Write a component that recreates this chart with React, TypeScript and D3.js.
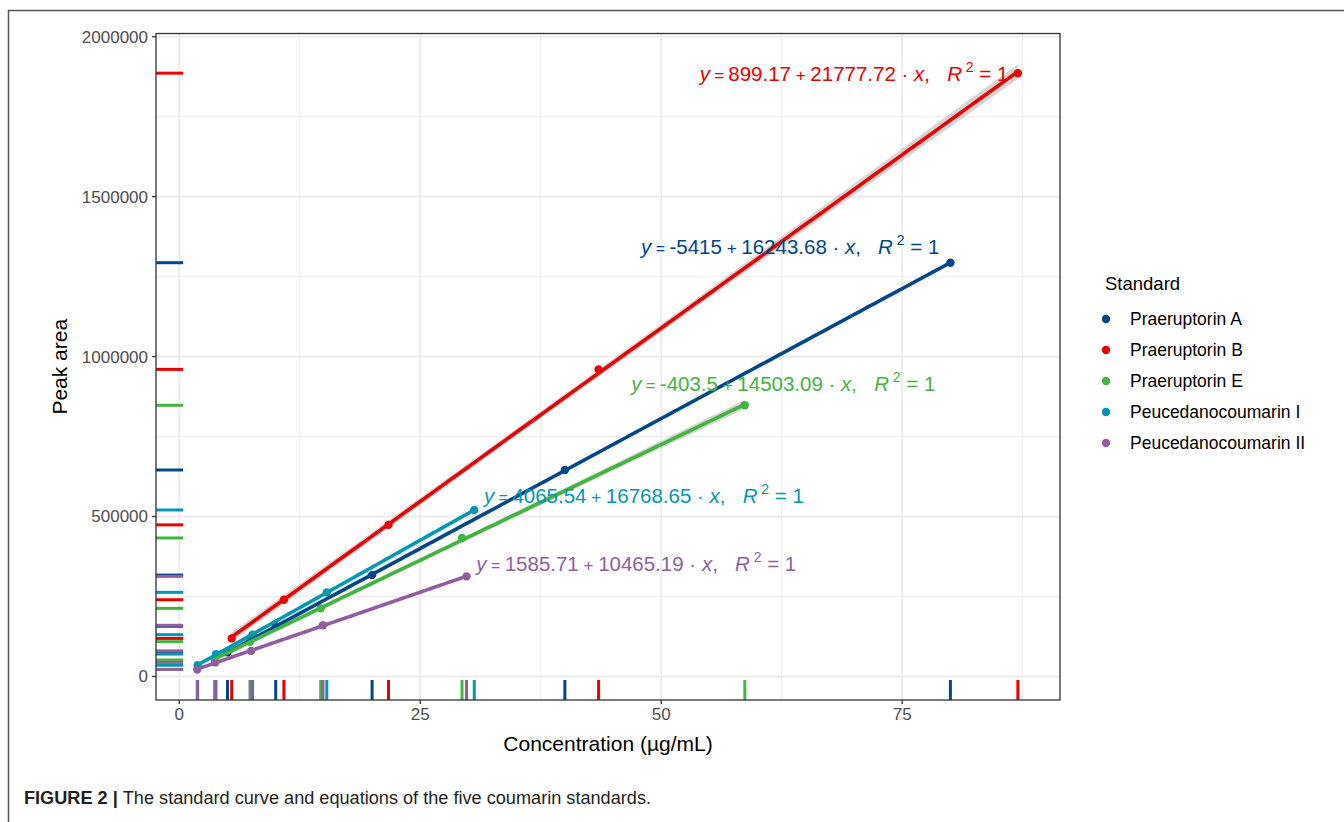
import React from 'react';
import * as d3 from 'd3';

// series names and colours (ggsci lancet)
const standards = ['Praeruptorin A', 'Praeruptorin B', 'Praeruptorin E', 'Peucedanocoumarin I', 'Peucedanocoumarin II'];
const colors = ['#00468B', '#ED0000', '#42B540', '#0099B4', '#925E9F'];

// concentration (µg/mL) and peak area
const concA = [5, 10, 20, 40, 80];
const areaA = [75800, 157000, 317000, 645500, 1293500];
const concB = [5.43, 10.85, 21.7, 43.5, 87.0];
const areaB = [119000, 240000, 474000, 960000, 1886000];
const concE = [3.67, 7.33, 14.67, 29.33, 58.67];
const areaE = [51600, 108800, 213000, 433000, 847700];
const concPI = [1.9, 3.8, 7.6, 15.3, 30.6];
const areaPI = [35000, 70000, 130700, 263000, 520500];
const concPII = [1.86, 3.72, 7.45, 14.9, 29.8];
const areaPII = [22000, 44000, 80000, 160000, 313000];

// equation labels
const eqIntercept = ['-5415', '899.17', '-403.5', '4065.54', '1585.71'];
const eqSlope = ['16243.68', '21777.72', '14503.09', '16768.65', '10465.19'];
const eqAt = [[47.9, 1342000], [54.0, 1883000], [46.9, 914000], [31.6, 564000], [30.8, 352000]];

const xTicks = [0, 25, 50, 75];
const yTicks = [0, 500000, 1000000, 1500000, 2000000];

const concs = [concA, concB, concE, concPI, concPII];
const areas = [areaA, areaB, areaE, areaPI, areaPII];

const W = 1344;
const H = 822;
const panel = { left: 156, right: 1060, top: 33.5, bottom: 700 };

// ordinary least squares + 95% confidence band, like geom_smooth(method = 'lm')
function fitLm(xs: number[], ys: number[]) {
  const n = xs.length;
  const mx = d3.mean(xs) as number;
  const my = d3.mean(ys) as number;
  const sxx = d3.sum(xs, (x) => (x - mx) ** 2);
  const sxy = d3.sum(xs, (x, i) => (x - mx) * (ys[i] - my));
  const b = sxy / sxx;
  const a = my - b * mx;
  const rss = d3.sum(xs, (x, i) => (ys[i] - a - b * x) ** 2);
  const s = Math.sqrt(rss / (n - 2));
  const t = 3.182; // qt(0.975, 3)
  const [x0, x1] = d3.extent(xs) as [number, number];
  const grid = d3.range(0, 81).map((i) => x0 + ((x1 - x0) * i) / 80);
  return grid.map((x) => {
    const fit = a + b * x;
    const se = s * Math.sqrt(1 / n + (x - mx) ** 2 / sxx);
    return { x, fit, lo: fit - t * se, hi: fit + t * se };
  });
}

const App: React.FC = () => {
  const x = d3.scaleLinear().domain([-2.42, 91.37]).range([panel.left, panel.right]);
  const y = d3.scaleLinear().domain([-73500, 2010000]).range([panel.bottom, panel.top]);

  const xMinor = [12.5, 37.5, 62.5, 87.5];
  const yMinor = [250000, 750000, 1250000, 1750000];

  const fits = concs.map((c, i) => fitLm(c, areas[i]));
  const line = d3.line<{ x: number; fit: number }>().x((d) => x(d.x)).y((d) => y(d.fit));
  const band = d3
    .area<{ x: number; lo: number; hi: number }>()
    .x((d) => x(d.x))
    .y0((d) => y(d.lo))
    .y1((d) => y(d.hi));

  const font = 'Liberation Sans, Arial, sans-serif';
  const rugX = 0.03 * (panel.bottom - panel.top);
  const rugY = 0.03 * (panel.right - panel.left);

  return (
    <svg width={W} height={H} style={{ position: 'absolute', left: 0, top: 0, fontFamily: font }}>
      <rect x={0} y={0} width={W} height={H} fill="#fff" />
      {/* figure frame */}
      <path d={`M8.5,${H + 2}V10.5H${W + 2}`} fill="none" stroke="#555" strokeWidth={1.5} />

      {/* grid */}
      <rect x={panel.left} y={panel.top} width={panel.right - panel.left} height={panel.bottom - panel.top} fill="#fff" />
      {yMinor.map((v) => (
        <line key={'ym' + v} x1={panel.left} x2={panel.right} y1={y(v)} y2={y(v)} stroke="#ebebeb" strokeWidth={0.9} />
      ))}
      {xMinor.map((v) => (
        <line key={'xm' + v} y1={panel.top} y2={panel.bottom} x1={x(v)} x2={x(v)} stroke="#ebebeb" strokeWidth={0.9} />
      ))}
      {yTicks.map((v) => (
        <line key={'yg' + v} x1={panel.left} x2={panel.right} y1={y(v)} y2={y(v)} stroke="#ebebeb" strokeWidth={1.8} />
      ))}
      {xTicks.map((v) => (
        <line key={'xg' + v} y1={panel.top} y2={panel.bottom} x1={x(v)} x2={x(v)} stroke="#ebebeb" strokeWidth={1.8} />
      ))}

      {/* confidence bands */}
      {fits.map((f, i) => (
        <path key={'band' + i} d={band(f) || ''} fill="#999" fillOpacity={0.4} />
      ))}

      {/* points */}
      {concs.map((c, i) =>
        c.map((v, j) => <circle key={`p${i}-${j}`} cx={x(v)} cy={y(areas[i][j])} r={4.2} fill={colors[i]} />)
      )}

      {/* fitted lines */}
      {fits.map((f, i) => (
        <path key={'line' + i} d={line(f) || ''} fill="none" stroke={colors[i]} strokeWidth={3.6} />
      ))}

      {/* rugs */}
      {concs.map((c, i) =>
        c.map((v, j) => (
          <g key={`r${i}-${j}`}>
            <line x1={x(v)} x2={x(v)} y1={panel.bottom} y2={panel.bottom - rugX} stroke={colors[i]} strokeWidth={3} />
            <line
              x1={panel.left}
              x2={panel.left + rugY}
              y1={y(areas[i][j])}
              y2={y(areas[i][j])}
              stroke={colors[i]}
              strokeWidth={3}
            />
          </g>
        ))
      )}

      {/* equations */}
      {eqAt.map((p, i) => (
        <text
          key={'eq' + i}
          x={x(p[0])}
          y={y(p[1])}
          dy="0.35em"
          fontSize={20.5}
          fill={colors[i]}
          style={{ whiteSpace: 'pre' }}
        >
          <tspan fontStyle="italic">y</tspan>
          <tspan fontSize={16}>{' = '}</tspan>
          <tspan>{eqIntercept[i]}</tspan>
          <tspan fontSize={17}>{' + '}</tspan>
          <tspan>{eqSlope[i] + ' · '}</tspan>
          <tspan fontStyle="italic">x</tspan>
          <tspan>{',   '}</tspan>
          <tspan fontStyle="italic">R</tspan>
          <tspan fontSize={14} dy={-9}>{' 2'}</tspan>
          <tspan dy={9}>{' = 1'}</tspan>
        </text>
      ))}

      {/* panel border */}
      <rect
        x={panel.left}
        y={panel.top}
        width={panel.right - panel.left}
        height={panel.bottom - panel.top}
        fill="none"
        stroke="#333"
        strokeWidth={1.3}
      />

      {/* axes */}
      {xTicks.map((v) => (
        <g key={'xt' + v}>
          <line x1={x(v)} x2={x(v)} y1={panel.bottom} y2={panel.bottom + 4} stroke="#333" strokeWidth={1.3} />
          <text x={x(v)} y={panel.bottom + 20} textAnchor="middle" fontSize={17} fill="#4d4d4d">
            {v}
          </text>
        </g>
      ))}
      {yTicks.map((v) => (
        <g key={'yt' + v}>
          <line x1={panel.left - 4} x2={panel.left} y1={y(v)} y2={y(v)} stroke="#333" strokeWidth={1.3} />
          <text x={panel.left - 8} y={y(v)} dy="0.35em" textAnchor="end" fontSize={17} fill="#4d4d4d">
            {v}
          </text>
        </g>
      ))}
      <text x={(panel.left + panel.right) / 2} y={751} textAnchor="middle" fontSize={21} fill="#000">
        Concentration (µg/mL)
      </text>
      <text
        transform={`translate(67,${(panel.top + panel.bottom) / 2}) rotate(-90)`}
        textAnchor="middle"
        fontSize={21}
        fill="#000"
      >
        Peak area
      </text>

      {/* legend */}
      <text x={1105} y={284} dy="0.35em" fontSize={18.5} fill="#000">
        Standard
      </text>
      {standards.map((s, i) => (
        <g key={'lg' + i} transform={`translate(0,${319 + i * 31})`}>
          <circle cx={1106} cy={0} r={4.2} fill={colors[i]} />
          <text x={1130} y={0} dy="0.35em" fontSize={17.5} fill="#000">
            {s}
          </text>
        </g>
      ))}

      {/* caption */}
      <text
        x={24}
        y={804}
        fontSize={17.5}
        fill="#231f20"
        textLength={627}
        lengthAdjust="spacingAndGlyphs"
        style={{ whiteSpace: 'pre' }}
      >
        <tspan fontWeight="bold">FIGURE 2 | </tspan>
        <tspan>The standard curve and equations of the five coumarin standards.</tspan>
      </text>
    </svg>
  );
};

export default App;
